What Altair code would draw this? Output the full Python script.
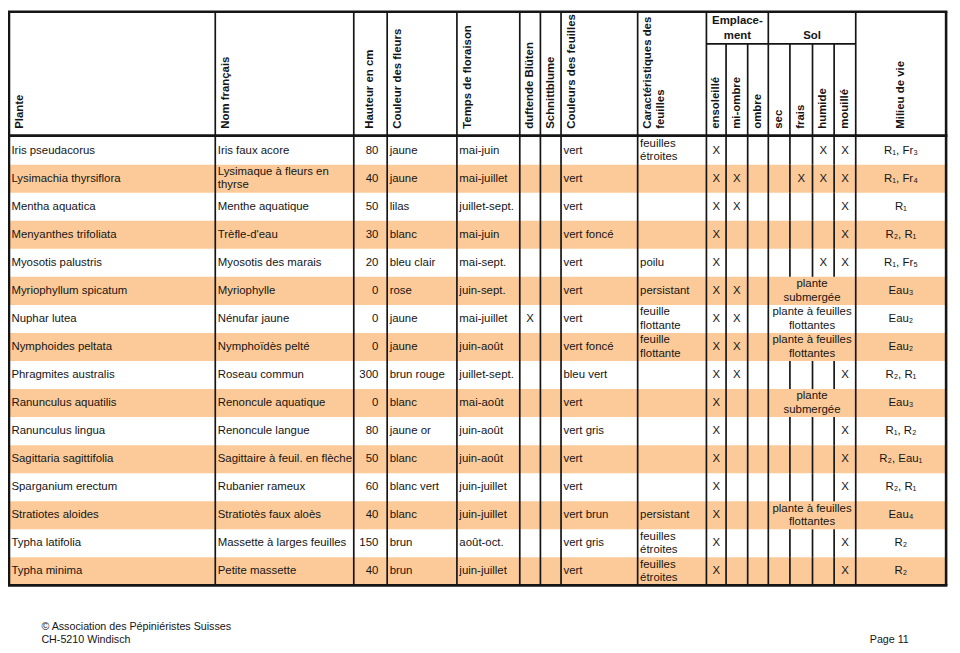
import altair as alt
import pandas as pd

# ---------------- data ----------------
plantes = ["Iris pseudacorus", "Lysimachia thyrsiflora", "Mentha aquatica", "Menyanthes trifoliata",
           "Myosotis palustris", "Myriophyllum spicatum", "Nuphar lutea", "Nymphoides peltata",
           "Phragmites australis", "Ranunculus aquatilis", "Ranunculus lingua", "Sagittaria sagittifolia",
           "Sparganium erectum", "Stratiotes aloides", "Typha latifolia", "Typha minima"]
noms = ["Iris faux acore", "Lysimaque à fleurs en\nthyrse", "Menthe aquatique", "Trèfle-d'eau",
        "Myosotis des marais", "Myriophylle", "Nénufar jaune", "Nymphoïdès pelté",
        "Roseau commun", "Renoncule aquatique", "Renoncule langue", "Sagittaire à feuil. en flèche",
        "Rubanier rameux", "Stratiotès faux aloès", "Massette à larges feuilles", "Petite massette"]
hauteur = [80, 40, 50, 30, 20, 0, 0, 0, 300, 0, 80, 50, 60, 40, 150, 40]
couleur_fleurs = ["jaune", "jaune", "lilas", "blanc", "bleu clair", "rose", "jaune", "jaune",
                  "brun rouge", "blanc", "jaune or", "blanc", "blanc vert", "blanc", "brun", "brun"]
floraison = ["mai-juin", "mai-juillet", "juillet-sept.", "mai-juin", "mai-sept.", "juin-sept.",
             "mai-juillet", "juin-août", "juillet-sept.", "mai-août", "juin-août", "juin-août",
             "juin-juillet", "juin-juillet", "août-oct.", "juin-juillet"]
duftende = ["", "", "", "", "", "", "X", "", "", "", "", "", "", "", "", ""]
schnittblume = ["", "", "", "", "", "", "", "", "", "", "", "", "", "", "", ""]
couleur_feuilles = ["vert", "vert", "vert", "vert foncé", "vert", "vert", "vert", "vert foncé",
                    "bleu vert", "vert", "vert gris", "vert", "vert", "vert brun", "vert gris", "vert"]
caracteristiques = ["feuilles\nétroites", "", "", "", "poilu", "persistant", "feuille\nflottante",
                    "feuille\nflottante", "", "", "", "", "", "persistant", "feuilles\nétroites",
                    "feuilles\nétroites"]
ensoleille = ["X", "X", "X", "X", "X", "X", "X", "X", "X", "X", "X", "X", "X", "X", "X", "X"]
mi_ombre = ["", "X", "X", "", "", "X", "X", "X", "X", "", "", "", "", "", "", ""]
ombre = ["", "", "", "", "", "", "", "", "", "", "", "", "", "", "", ""]
sec = ["", "", "", "", "", "", "", "", "", "", "", "", "", "", "", ""]
frais = ["", "X", "", "", "", "", "", "", "", "", "", "", "", "", "", ""]
humide = ["X", "X", "", "", "X", "", "", "", "", "", "", "", "", "", "", ""]
mouille = ["X", "X", "X", "X", "X", "", "", "", "X", "", "X", "X", "X", "", "X", "X"]
sol_texte = ["", "", "", "", "", "plante\nsubmergée", "plante à feuilles\nflottantes",
             "plante à feuilles\nflottantes", "", "plante\nsubmergée", "", "", "",
             "plante à feuilles\nflottantes", "", ""]
milieu = ["R₁, Fr₃", "R₁, Fr₄", "R₁", "R₂, R₁", "R₁, Fr₅", "Eau₃", "Eau₂", "Eau₂", "R₂, R₁",
          "Eau₃", "R₁, R₂", "R₂, Eau₁", "R₂, R₁", "Eau₄", "R₂", "R₂"]

headers = ["Plante", "Nom français", "Hauteur en cm", "Couleur des fleurs", "Temps de floraison",
           "duftende Blüten", "Schnittblume", "Couleurs des feuilles", "Caractéristiques des\nfeuilles",
           "ensoleillé", "mi-ombre", "ombre", "sec", "frais", "humide", "mouillé", "Milieu de vie"]
groupes = ["Emplace-\nment", "Sol"]
pied = ["© Association des Pépiniéristes Suisses\nCH-5210 Windisch", "Page 11"]

# ---------------- layout ----------------
edges = [2, 212, 353, 387, 458, 522, 543, 564, 642, 712, 732, 754, 775, 797, 820, 842, 864, 956]
header_mode = ["l", "l", "c", "l", "l", "c", "c", "l", "l", "c", "c", "c", "c", "c", "c", "c", "c"]
TOP, SUB, HEAD, ROW0, RH = 2, 35, 129, 130, 28.75
n = len(plantes)
BOTTOM = ROW0 + n * RH
ORANGE = "#FCCA98"
FONT = "Liberation Sans, Arial, Helvetica, sans-serif"
INK = "#151515"
LH = 13.5

def rtop(i):
    return ROW0 + i * RH

def rmid(i):
    return ROW0 + i * RH + RH / 2

def cmid(c):
    return (edges[c] + edges[c + 1]) / 2

def ystart(yc, txt, lh=LH):
    # first-line position so that a multi-line block is centred on yc
    return yc - (txt.count("\n")) * lh / 2

# backgrounds
bg = pd.DataFrame([{"x": edges[0], "x2": edges[-1], "y": rtop(i), "y2": rtop(i) + RH}
                   for i in range(n) if i % 2 == 1])

# vertical lines
vl = []
sub_cols = {10, 11, 13, 14, 15}
sol_inner = {13, 14, 15}
for k, e in enumerate(edges):
    w = 2.6 if k in (0, len(edges) - 1) else 1.7
    y0 = SUB if k in sub_cols else TOP
    if k in sol_inner:
        vl.append({"x": e, "y": y0, "y2": ROW0, "w": w})
        for i in range(n):
            if not sol_texte[i]:
                vl.append({"x": e, "y": rtop(i), "y2": rtop(i) + RH, "w": w})
    else:
        vl.append({"x": e, "y": y0, "y2": BOTTOM, "w": w})
vl = pd.DataFrame(vl)

hl = pd.DataFrame([
    {"x": edges[0] - 1.3, "x2": edges[-1] + 1.3, "y": TOP, "w": 2.6},
    {"x": edges[0] - 1.3, "x2": edges[-1] + 1.3, "y": HEAD, "w": 2.6},
    {"x": edges[0] - 1.3, "x2": edges[-1] + 1.3, "y": BOTTOM, "w": 2.6},
    {"x": edges[9], "x2": edges[16], "y": SUB, "w": 1.7},
])

# cell texts
left_cols = [(0, plantes), (1, noms), (3, couleur_fleurs), (4, floraison), (7, couleur_feuilles),
             (8, caracteristiques)]
center_cols = [(5, duftende), (6, schnittblume), (9, ensoleille), (10, mi_ombre), (11, ombre),
               (12, sec), (13, frais), (14, humide), (15, mouille), (16, milieu)]
lt, ct, rt = [], [], []
for i in range(n):
    for c, arr in left_cols:
        if arr[i]:
            lt.append({"x": edges[c] + 2.5, "y": ystart(rmid(i), arr[i]), "t": arr[i]})
    for c, arr in center_cols:
        if arr[i]:
            ct.append({"x": cmid(c), "y": ystart(rmid(i), arr[i]), "t": arr[i]})
    if sol_texte[i]:
        ct.append({"x": (edges[12] + edges[16]) / 2, "y": ystart(rmid(i), sol_texte[i]), "t": sol_texte[i]})
    rt.append({"x": edges[3] - 9, "y": rmid(i), "t": str(hauteur[i])})
lt, ct, rt = pd.DataFrame(lt), pd.DataFrame(ct), pd.DataFrame(rt)

hg = pd.DataFrame([{"x": edges[c] + 5, "y": 122, "t": headers[c]} for c in range(len(headers)) if header_mode[c] == "l"])
hc = pd.DataFrame([{"x": cmid(c), "y": 122, "t": headers[c]} for c in range(len(headers)) if header_mode[c] == "c"])
gr = pd.DataFrame([{"x": (edges[9] + edges[12]) / 2, "y": ystart(19.5, groupes[0], 15), "t": groupes[0]},
                   {"x": (edges[12] + edges[16]) / 2, "y": 26.5, "t": groupes[1]}])
ft1 = pd.DataFrame([{"x": 35, "y": 633, "t": pied[0]}])
ft2 = pd.DataFrame([{"x": 918, "y": 646, "t": pied[1]}])

# ---------------- chart ----------------
# the page margin is 8px: reference pixel space is mapped slightly compressed
# so that the whole table fits inside the drawable area
X = alt.Scale(domain=[1, 962], nice=False, zero=False)
Y = alt.Scale(domain=[1, 656.5], reverse=True, nice=False, zero=False)

def xq(f="x"):
    return alt.X(f"{f}:Q", scale=X, axis=None)

def yq(f="y"):
    return alt.Y(f"{f}:Q", scale=Y, axis=None)

layers = [
    alt.Chart(bg).mark_rect(color=ORANGE).encode(x=xq(), x2="x2:Q", y=yq(), y2="y2:Q"),
    alt.Chart(vl).mark_rule(color=INK).encode(x=xq(), y=yq(), y2="y2:Q",
                                              strokeWidth=alt.StrokeWidth("w:Q", scale=None)),
    alt.Chart(hl).mark_rule(color=INK).encode(x=xq(), x2="x2:Q", y=yq(),
                                              strokeWidth=alt.StrokeWidth("w:Q", scale=None)),
    alt.Chart(lt).mark_text(align="left", baseline="middle", font=FONT, fontSize=11.5, color=INK,
                            lineBreak="\n", lineHeight=LH).encode(x=xq(), y=yq(), text="t:N"),
    alt.Chart(ct).mark_text(align="center", baseline="middle", font=FONT, fontSize=11.5, color=INK,
                            lineBreak="\n", lineHeight=LH).encode(x=xq(), y=yq(), text="t:N"),
    alt.Chart(rt).mark_text(align="right", baseline="middle", font=FONT, fontSize=11.5, color=INK
                            ).encode(x=xq(), y=yq(), text="t:N"),
    alt.Chart(hg).mark_text(align="left", baseline="top", angle=270, font=FONT, fontSize=11.5,
                            fontWeight="bold", color=INK, lineBreak="\n", lineHeight=12.5
                            ).encode(x=xq(), y=yq(), text="t:N"),
    alt.Chart(hc).mark_text(align="left", baseline="middle", angle=270, font=FONT, fontSize=11.5,
                            fontWeight="bold", color=INK).encode(x=xq(), y=yq(), text="t:N"),
    alt.Chart(gr).mark_text(align="center", baseline="middle", font=FONT, fontSize=11.5,
                            fontWeight="bold", color=INK, lineBreak="\n", lineHeight=15
                            ).encode(x=xq(), y=yq(), text="t:N"),
    alt.Chart(ft1).mark_text(align="left", baseline="middle", font="Liberation Sans Narrow, " + FONT,
                             fontSize=10.8, color=INK, lineBreak="\n", lineHeight=13
                             ).encode(x=xq(), y=yq(), text="t:N"),
    alt.Chart(ft2).mark_text(align="right", baseline="middle", font="Liberation Sans Narrow, " + FONT,
                             fontSize=10.8, color=INK).encode(x=xq(), y=yq(), text="t:N"),
]

chart = alt.layer(*layers).properties(
    width=952, height=645, padding=0, autosize="none", background="white"
).configure_view(stroke=None)

chart.save("out.html", embed_options={"renderer": "svg", "actions": False})
